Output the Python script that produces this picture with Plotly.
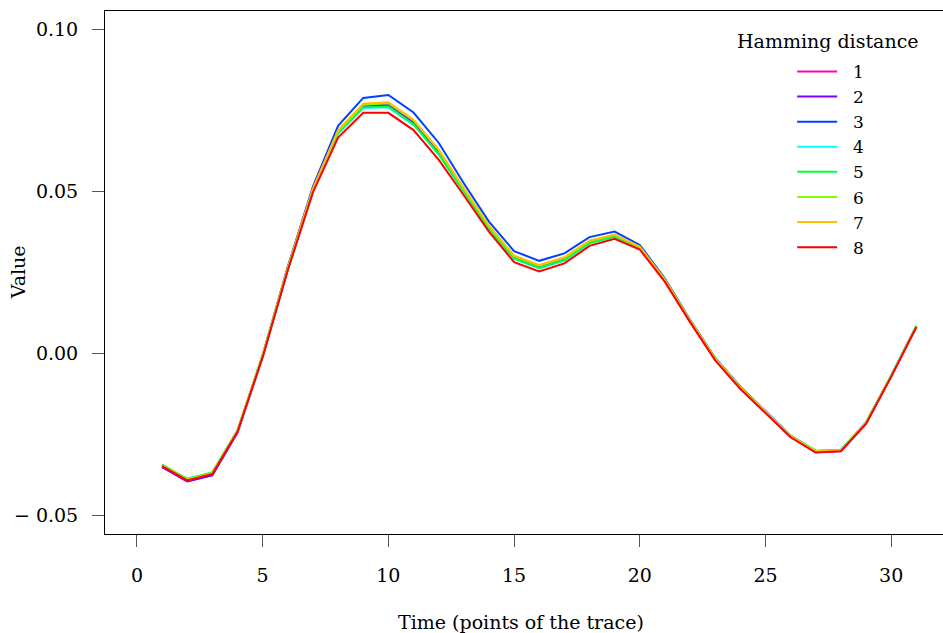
import plotly.graph_objects as go

time_points = list(range(1, 32))

hd1 = [-0.0349, -0.0393, -0.0374, -0.0243, -0.0009, 0.0261, 0.0504, 0.0682, 0.0762, 0.0765, 0.0712, 0.0620, 0.0504, 0.0389, 0.0296, 0.0267, 0.0291, 0.0343, 0.0363, 0.0327, 0.0225, 0.0100, -0.0018, -0.0106, -0.0180, -0.0256, -0.0303, -0.0300, -0.0215, -0.0070, 0.0083]
hd2 = [-0.0350, -0.0394, -0.0375, -0.0243, -0.0009, 0.0261, 0.0505, 0.0683, 0.0764, 0.0767, 0.0714, 0.0621, 0.0505, 0.0390, 0.0297, 0.0268, 0.0292, 0.0344, 0.0364, 0.0327, 0.0225, 0.0099, -0.0018, -0.0107, -0.0181, -0.0257, -0.0304, -0.0300, -0.0215, -0.0070, 0.0083]
hd3 = [-0.0344, -0.0389, -0.0368, -0.0237, -0.0004, 0.0268, 0.0515, 0.0702, 0.0788, 0.0797, 0.0743, 0.0650, 0.0525, 0.0407, 0.0316, 0.0286, 0.0309, 0.0359, 0.0376, 0.0335, 0.0231, 0.0104, -0.0013, -0.0102, -0.0177, -0.0253, -0.0300, -0.0297, -0.0212, -0.0067, 0.0085]
hd4 = [-0.0343, -0.0387, -0.0366, -0.0237, -0.0007, 0.0260, 0.0502, 0.0678, 0.0757, 0.0759, 0.0705, 0.0614, 0.0499, 0.0385, 0.0293, 0.0263, 0.0287, 0.0340, 0.0360, 0.0325, 0.0225, 0.0100, -0.0017, -0.0106, -0.0180, -0.0256, -0.0301, -0.0296, -0.0212, -0.0067, 0.0086]
hd5 = [-0.0342, -0.0386, -0.0366, -0.0238, -0.0007, 0.0261, 0.0503, 0.0680, 0.0759, 0.0762, 0.0707, 0.0615, 0.0500, 0.0386, 0.0293, 0.0264, 0.0288, 0.0341, 0.0361, 0.0326, 0.0226, 0.0101, -0.0016, -0.0105, -0.0179, -0.0255, -0.0300, -0.0297, -0.0213, -0.0068, 0.0085]
hd6 = [-0.0344, -0.0388, -0.0367, -0.0238, -0.0007, 0.0263, 0.0507, 0.0686, 0.0767, 0.0772, 0.0719, 0.0627, 0.0508, 0.0393, 0.0300, 0.0271, 0.0295, 0.0347, 0.0366, 0.0329, 0.0228, 0.0102, -0.0015, -0.0104, -0.0178, -0.0254, -0.0300, -0.0298, -0.0214, -0.0069, 0.0084]
hd7 = [-0.0345, -0.0390, -0.0369, -0.0239, -0.0007, 0.0264, 0.0508, 0.0688, 0.0770, 0.0775, 0.0721, 0.0629, 0.0510, 0.0395, 0.0302, 0.0273, 0.0297, 0.0348, 0.0367, 0.0329, 0.0227, 0.0101, -0.0016, -0.0105, -0.0179, -0.0255, -0.0302, -0.0299, -0.0214, -0.0069, 0.0084]
hd8 = [-0.0347, -0.0391, -0.0371, -0.0241, -0.0011, 0.0257, 0.0497, 0.0666, 0.0742, 0.0742, 0.0689, 0.0598, 0.0488, 0.0376, 0.0282, 0.0253, 0.0278, 0.0332, 0.0354, 0.0321, 0.0221, 0.0097, -0.0021, -0.0109, -0.0183, -0.0258, -0.0305, -0.0301, -0.0216, -0.0071, 0.0082]

series_names = ["1", "2", "3", "4", "5", "6", "7", "8"]
series_values = [hd1, hd2, hd3, hd4, hd5, hd6, hd7, hd8]
colors = ["#FF00BF", "#8000FF", "#0040FF", "#00FFFF", "#00FF40", "#80FF00", "#FFBF00", "#FF0000"]

x_tickvals = [0, 5, 10, 15, 20, 25, 30]
x_ticktext = ["0", "5", "10", "15", "20", "25", "30"]
y_tickvals = [-0.05, 0.0, 0.05, 0.10]
y_ticktext = ["\u2212 0.05", "0.00", "0.05", "0.10"]

FONT = "DejaVu Serif"
FS = 19

fig = go.Figure()
for name, vals, col in zip(series_names, series_values, colors):
    fig.add_trace(go.Scatter(x=time_points, y=vals, mode="lines",
                             name="\u00a0\u00a0" + name,
                             line=dict(color=col, width=2)))

fig.update_layout(
    width=943, height=633,
    margin=dict(l=105, r=0, t=11, b=99),
    paper_bgcolor="white", plot_bgcolor="white",
    font=dict(family=FONT, size=FS, color="black"),
    showlegend=True,
    legend=dict(x=0.82, y=0.918, xanchor="left", yanchor="top",
                bgcolor="rgba(0,0,0,0)", font=dict(family=FONT, size=17),
                traceorder="normal", itemwidth=40),
)
fig.update_xaxes(range=[-1.27, 32.06], tickvals=x_tickvals, ticktext=x_ticktext,
                 ticks="outside", ticklen=12, tickcolor="#555", tickwidth=1,
                 showline=True, linecolor="black", linewidth=1, mirror=True,
                 showgrid=False, zeroline=False, ticklabelstandoff=12,
                 tickfont=dict(family=FONT, size=FS))
fig.update_yaxes(range=[-0.0556, 0.1056], tickvals=y_tickvals, ticktext=y_ticktext,
                 ticks="outside", ticklen=12, tickcolor="#555", tickwidth=1,
                 showline=True, linecolor="black", linewidth=1, mirror=False,
                 showgrid=False, zeroline=False, ticklabelstandoff=10,
                 tickfont=dict(family=FONT, size=FS))

fig.add_annotation(text="Hamming distance", xref="paper", yref="paper",
                   x=0.863, y=0.943, xanchor="center", yanchor="middle",
                   showarrow=False, font=dict(family=FONT, size=FS))
fig.add_annotation(text="Value", xref="paper", yref="paper",
                   x=-0.104, y=0.5, xanchor="center", yanchor="middle", textangle=-90,
                   showarrow=False, font=dict(family=FONT, size=FS))
fig.add_annotation(text="Time (points of the trace)", xref="paper", yref="paper",
                   x=0.497, y=-0.168, xanchor="center", yanchor="middle",
                   showarrow=False, font=dict(family=FONT, size=FS))

fig.write_html("out.html")
